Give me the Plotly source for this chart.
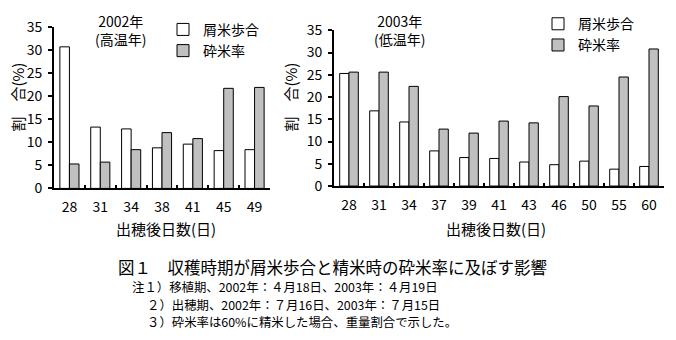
import plotly.graph_objects as go

W, H = 676, 340
FONT = "Noto Sans CJK JP"

# ---- data ----
days_2002 = ["28", "31", "34", "38", "41", "45", "49"]
kuzumai_2002 = [30.7, 13.3, 12.9, 8.8, 9.6, 8.2, 8.4]
saimai_2002 = [5.3, 5.7, 8.4, 12.1, 10.8, 21.7, 21.9]

days_2003 = ["28", "31", "34", "37", "39", "41", "43", "46", "50", "55", "60"]
kuzumai_2003 = [25.3, 16.9, 14.4, 7.9, 6.4, 6.2, 5.4, 4.8, 5.6, 3.8, 4.4]
saimai_2003 = [25.6, 25.6, 22.4, 12.8, 11.9, 14.6, 14.2, 20.1, 18.0, 24.5, 30.8]

name_kuzu = "屑米歩合"
name_sai = "砕米率"
y_ticks = [0, 5, 10, 15, 20, 25, 30, 35]


def px_x(p):
    return p / W


def px_y(p):
    return 1 - p / H


fig = go.Figure()

bar_line = dict(color="black", width=1)
fig.add_trace(go.Bar(x=days_2002, y=kuzumai_2002, name=name_kuzu,
                     marker=dict(color="white", line=bar_line),
                     xaxis="x", yaxis="y", legend="legend"))
fig.add_trace(go.Bar(x=days_2002, y=saimai_2002, name=name_sai,
                     marker=dict(color="#C0C0C0", line=bar_line),
                     xaxis="x", yaxis="y", legend="legend"))
fig.add_trace(go.Bar(x=days_2003, y=kuzumai_2003, name=name_kuzu,
                     marker=dict(color="white", line=bar_line),
                     xaxis="x2", yaxis="y2", legend="legend2"))
fig.add_trace(go.Bar(x=days_2003, y=saimai_2003, name=name_sai,
                     marker=dict(color="#C0C0C0", line=bar_line),
                     xaxis="x2", yaxis="y2", legend="legend2"))

xcommon = dict(type="category", showline=True, linecolor="black", linewidth=2,
               ticks="inside", tickson="boundaries", ticklen=3, tickwidth=2,
               tickcolor="black", showgrid=False, zeroline=False,
               tickfont=dict(family=FONT, size=14, color="black"),
               ticklabelstandoff=5)
ycommon = dict(range=[0, 35], tickvals=y_ticks, showline=True, linecolor="black",
               linewidth=2, ticks="outside", ticklen=4, tickwidth=2,
               tickcolor="black", showgrid=False, zeroline=False,
               tickfont=dict(family=FONT, size=14, color="black"),
               ticklabelstandoff=3)

legend_common = dict(font=dict(family=FONT, size=14, color="black"),
                     bgcolor="rgba(0,0,0,0)", tracegroupgap=0,
                     xanchor="left", yanchor="top", traceorder="normal")

fig.update_layout(
    width=W, height=H,
    margin=dict(l=0, r=0, t=0, b=0),
    paper_bgcolor="white", plot_bgcolor="white",
    barmode="group", bargap=0.38, bargroupgap=0,
    font=dict(family=FONT, color="black"),
    showlegend=True,
    xaxis=dict(domain=[px_x(54), px_x(270)], anchor="y", **xcommon),
    yaxis=dict(domain=[px_y(188.5), px_y(17)], anchor="x", **ycommon),
    xaxis2=dict(domain=[px_x(334), px_x(664)], anchor="y2", **xcommon),
    yaxis2=dict(domain=[px_y(186), px_y(20.5)], anchor="x2", **ycommon),
    legend=dict(x=px_x(163), y=px_y(3), **legend_common),
    legend2=dict(x=px_x(538), y=px_y(-3), **legend_common),
)

# panel titles
for xp, txt in ((120, "2002年<br>(高温年)"), (399, "2003年<br>(低温年)")):
    fig.add_annotation(x=px_x(xp), y=px_y(20), xref="paper", yref="paper",
                       text=txt, showarrow=False, xanchor="center",
                       yanchor="middle", align="center", borderpad=0,
                       font=dict(family=FONT, size=14, color="black"))

# x titles
for xp in (166, 496):
    fig.add_annotation(x=px_x(xp), y=px_y(231), xref="paper", yref="paper",
                       text="出穂後日数(日)", showarrow=False, xanchor="center",
                       yanchor="middle", borderpad=0,
                       font=dict(family=FONT, size=15, color="black"))

# y titles
for xp in (18, 291):
    fig.add_annotation(x=px_x(xp), y=px_y(92), xref="paper", yref="paper",
                       text="割　合(%)", showarrow=False, textangle=-90,
                       xanchor="center", yanchor="middle", borderpad=0,
                       font=dict(family=FONT, size=15, color="black"))

# caption and notes
captions = [
    (117, 272, "図１　収穫時期が屑米歩合と精米時の砕米率に及ぼす影響", 16.5),
    (131, 293.5, "注１）移植期、2002年：４月18日、2003年：４月19日", 12.4),
    (146, 311.9, "２）出穂期、2002年：７月16日、2003年：７月15日", 12.4),
    (146, 330.3, "３）砕米率は60%に精米した場合、重量割合で示した。", 12.4),
]
for xp, yp, txt, sz in captions:
    fig.add_annotation(x=px_x(xp), y=px_y(yp), xref="paper", yref="paper",
                       text=txt, showarrow=False, xanchor="left",
                       yanchor="middle", borderpad=0,
                       font=dict(family=FONT, size=sz, color="black"))

fig.write_html("out.html")
